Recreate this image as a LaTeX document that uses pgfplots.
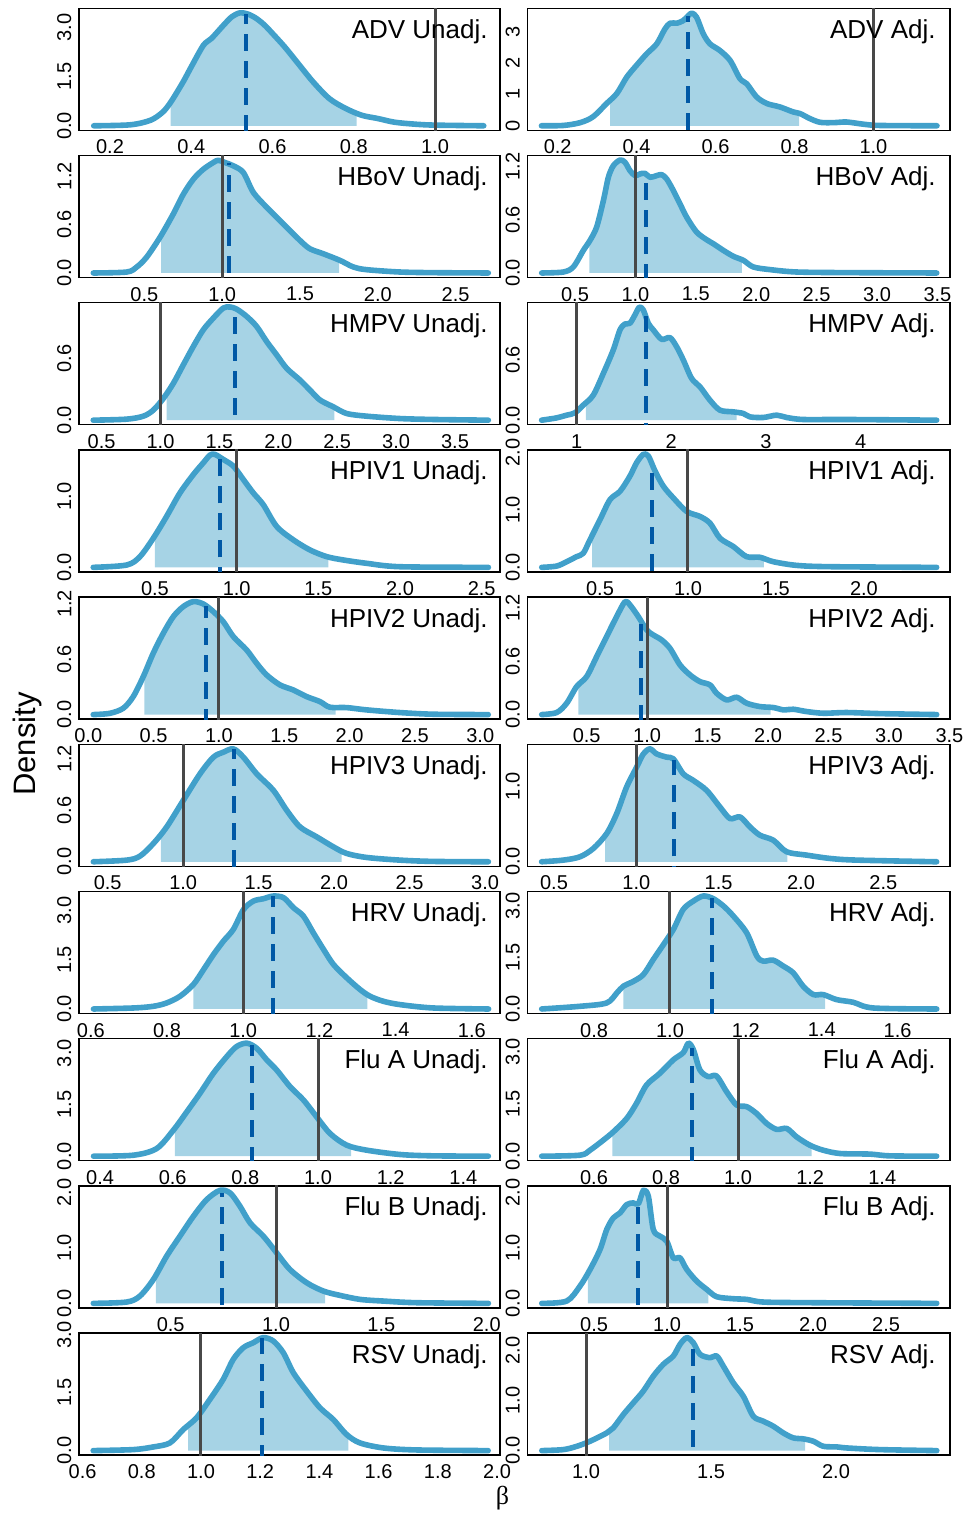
\documentclass[border=0pt]{standalone}
\usepackage{fontspec}
\setmainfont{Liberation Sans}
\newfontfamily\grk{Liberation Serif}
\usepackage{pgfplots}
\pgfplotsset{compat=1.18}
\usepackage{pgfplotstable}
\usepgfplotslibrary{fillbetween}

\definecolor{curveblue}{RGB}{65,160,202}
\definecolor{fillblue}{RGB}{166,211,229}
\definecolor{meanblue}{RGB}{0,88,165}
\definecolor{refgray}{RGB}{72,72,72}

\pgfplotsset{
  panel/.style={scale only axis, anchor=south west, height=61pt, clip=true,
    axis line style={line width=0.7pt, black}, major tick length=0pt,
    xticklabel style={font=\fontsize{10}{12}\selectfont, anchor=north, inner sep=0pt},
    yticklabel style={font=\fontsize{10}{12}\selectfont, rotate=90, anchor=south, inner sep=0pt},
    xticklabel shift=4.6pt, yticklabel shift=3.6pt},
  L/.style={panel, width=210.5pt},
  R/.style={panel, width=211.35pt},
  curve/.style={smooth, color=curveblue, line width=2.8pt, line cap=round, line join=round},
  refline/.style={color=refgray, line width=1.5pt},
  meanline/.style={color=meanblue, line width=2pt, dash pattern=on 8.5pt off 5pt},
}

% #1 table, #2/#3 shaded interval, #4 mean, #5 density at the mean
\newcommand{\dens}[5]{%
  \addplot[draw=none, smooth, name path=d] table {#1};
  \addplot[draw=none, name path=b] coordinates {(-5,0) (10,0)};
  \addplot[fill=fillblue, draw=none] fill between[of=d and b, soft clip={domain=#2:#3}];
  \addplot[curve] table {#1};
  \addplot[refline] coordinates {(1,-1) (1,10)};
  \addplot[meanline] coordinates {(#4,-1) (#4,#5)};
}
\newcommand{\ttl}[2]{\node[anchor=base east, inner sep=0pt, xshift=-#2, yshift=-15pt,
  font=\fontsize{13}{15.6}\selectfont] at (rel axis cs:1,1) {#1};}

\pgfplotstableread{
x y
0.16 0
0.25 0.03
0.30 0.17
0.33 0.42
0.35 0.73
0.38 1.34
0.40 1.80
0.43 2.46
0.45 2.67
0.48 3.08
0.50 3.33
0.52 3.45
0.54 3.41
0.56 3.28
0.58 3.08
0.60 2.82
0.63 2.41
0.66 1.95
0.70 1.34
0.74 0.83
0.78 0.53
0.82 0.32
0.86 0.22
0.90 0.11
0.95 0.05
1.00 0.02
1.12 0
}\dADVu

\pgfplotstableread{
x y
0.159 0
0.214 0.01
0.257 0.10
0.290 0.29
0.324 0.71
0.350 1.03
0.375 1.55
0.400 1.93
0.426 2.30
0.451 2.61
0.472 3.09
0.485 3.27
0.502 3.27
0.518 3.35
0.531 3.51
0.540 3.59
0.552 3.46
0.569 2.93
0.586 2.61
0.611 2.40
0.637 2.08
0.662 1.50
0.679 1.34
0.704 0.92
0.730 0.71
0.763 0.60
0.797 0.44
0.814 0.39
0.839 0.23
0.865 0.11
0.899 0.10
0.932 0.12
0.975 0.05
1.017 0.01
1.161 0
}\dADVa

\pgfplotstableread{
x y
0.172 0
0.387 0.012
0.451 0.074
0.515 0.197
0.601 0.444
0.686 0.732
0.751 0.978
0.815 1.163
0.879 1.286
0.943 1.369
0.975 1.397
1.018 1.369
1.072 1.328
1.136 1.245
1.200 0.999
1.286 0.814
1.393 0.608
1.500 0.403
1.564 0.300
1.650 0.238
1.757 0.156
1.843 0.074
1.928 0.041
2.142 0.012
2.357 0.004
2.710 0
}\dHBoVu

\pgfplotstableread{
x y
0.224 0
0.403 0.011
0.486 0.068
0.569 0.255
0.624 0.368
0.679 0.518
0.735 0.818
0.776 1.08
0.817 1.211
0.873 1.275
0.914 1.249
0.955 1.155
0.997 1.099
1.038 1.118
1.079 1.125
1.121 1.08
1.176 1.099
1.217 1.11
1.259 1.061
1.314 0.93
1.369 0.78
1.424 0.63
1.507 0.461
1.590 0.375
1.645 0.33
1.728 0.255
1.811 0.188
1.893 0.143
1.976 0.068
2.114 0.038
2.335 0.011
2.749 0.004
3.494 0
}\dHBoVa

\pgfplotstableread{
x y
0.429 0
0.712 0.010
0.854 0.039
0.939 0.098
1.024 0.212
1.109 0.359
1.193 0.538
1.278 0.717
1.363 0.880
1.448 0.994
1.533 1.092
1.590 1.102
1.646 1.082
1.731 1.011
1.816 0.913
1.901 0.766
1.986 0.636
2.071 0.505
2.184 0.391
2.269 0.293
2.354 0.196
2.467 0.130
2.580 0.065
2.750 0.039
3.033 0.016
3.316 0.007
3.783 0
}\dHMPVu

\pgfplotstableread{
x y
0.630 0
0.789 0.023
0.894 0.05
0.982 0.073
1.070 0.15
1.176 0.25
1.282 0.466
1.387 0.70
1.458 0.90
1.511 0.959
1.563 0.966
1.616 1.049
1.662 1.126
1.704 1.099
1.757 0.966
1.810 0.90
1.898 0.806
1.986 0.823
2.056 0.733
2.127 0.60
2.215 0.416
2.303 0.333
2.408 0.20
2.514 0.10
2.655 0.083
2.761 0.067
2.831 0.033
2.972 0.027
3.113 0.05
3.218 0.027
3.394 0.007
3.852 0.007
4.803 0
}\dHMPVa

\pgfplotstableread{
x y
0.122 0
0.327 0.033
0.408 0.151
0.490 0.411
0.571 0.717
0.653 1.048
0.735 1.307
0.796 1.473
0.837 1.581
0.867 1.591
0.918 1.52
0.980 1.425
1.041 1.237
1.102 1.048
1.163 0.883
1.245 0.576
1.347 0.387
1.449 0.245
1.551 0.151
1.653 0.104
1.796 0.057
2.000 0.009
2.541 0
}\dPIau

\pgfplotstableread{
x y
0.169 0
0.254 0.023
0.311 0.099
0.367 0.187
0.405 0.246
0.443 0.48
0.500 0.831
0.557 1.182
0.614 1.328
0.670 1.591
0.708 1.825
0.746 1.971
0.775 1.942
0.813 1.679
0.860 1.416
0.917 1.211
0.992 0.977
1.068 0.889
1.125 0.772
1.182 0.509
1.258 0.363
1.333 0.187
1.409 0.176
1.485 0.099
1.617 0.035
1.807 0.012
2.413 0
}\dPIaa

\pgfplotstableread{
x y
0.038 0
0.166 0.014
0.268 0.069
0.344 0.195
0.421 0.412
0.497 0.665
0.574 0.882
0.651 1.063
0.727 1.171
0.804 1.225
0.880 1.2
0.957 1.117
1.033 1.008
1.110 0.846
1.212 0.701
1.288 0.557
1.365 0.43
1.467 0.322
1.569 0.267
1.671 0.195
1.773 0.141
1.849 0.08
1.977 0.076
2.130 0.051
2.385 0.022
2.640 0.004
3.061 0
}\dPIbu

\pgfplotstableread{
x y
0.128 0
0.252 0.023
0.335 0.128
0.417 0.315
0.500 0.428
0.583 0.653
0.665 0.878
0.748 1.103
0.817 1.271
0.858 1.234
0.927 1.103
0.996 0.953
1.051 0.896
1.120 0.84
1.189 0.746
1.272 0.559
1.355 0.446
1.437 0.371
1.520 0.334
1.575 0.24
1.658 0.165
1.741 0.195
1.823 0.128
1.934 0.09
2.044 0.079
2.127 0.053
2.209 0.06
2.319 0.034
2.458 0.015
2.651 0.023
2.926 0.011
3.395 0
}\dPIba

\pgfplotstableread{
x y
0.405 0
0.626 0.019
0.714 0.066
0.803 0.213
0.891 0.406
1.001 0.716
1.112 1.026
1.200 1.219
1.266 1.277
1.333 1.316
1.399 1.219
1.487 1.026
1.598 0.832
1.686 0.6
1.774 0.406
1.885 0.29
1.995 0.174
2.083 0.097
2.216 0.05
2.437 0.019
2.658 0.004
3.022 0
}\dPIcu

\pgfplotstableread{
x y
0.425 0
0.557 0.022
0.658 0.066
0.739 0.176
0.820 0.373
0.881 0.637
0.941 0.988
1.002 1.251
1.043 1.427
1.083 1.493
1.123 1.427
1.184 1.383
1.225 1.361
1.285 1.163
1.346 1.076
1.427 0.944
1.508 0.724
1.569 0.571
1.630 0.593
1.690 0.461
1.751 0.351
1.832 0.285
1.913 0.132
2.034 0.088
2.176 0.044
2.338 0.022
2.824 0
}\dPIca

\pgfplotstableread{
x y
0.607 0
0.712 0.031
0.764 0.082
0.799 0.184
0.834 0.388
0.869 0.745
0.896 1.204
0.922 1.663
0.948 2.071
0.974 2.428
1.001 3.04
1.027 3.295
1.053 3.366
1.079 3.448
1.106 3.397
1.132 3.091
1.158 2.836
1.184 2.326
1.211 1.816
1.237 1.357
1.272 0.949
1.307 0.592
1.333 0.388
1.368 0.235
1.412 0.133
1.499 0.031
1.644 0
}\dHRVu

\pgfplotstableread{
x y
0.662 0
0.763 0.078
0.833 0.175
0.860 0.468
0.877 0.662
0.904 0.808
0.930 1.003
0.956 1.442
0.983 1.88
1.009 2.318
1.035 2.903
1.062 3.146
1.088 3.292
1.114 3.214
1.141 3.0
1.167 2.708
1.202 2.221
1.229 1.539
1.246 1.393
1.272 1.422
1.299 1.247
1.325 1.052
1.351 0.662
1.378 0.419
1.404 0.419
1.439 0.273
1.483 0.195
1.536 0.029
1.703 0
}\dHRVa

\pgfplotstableread{
x y
0.382 0
0.492 0.029
0.556 0.224
0.602 0.76
0.639 1.295
0.675 1.831
0.712 2.416
0.749 2.903
0.776 3.195
0.804 3.292
0.831 3.146
0.859 2.805
0.886 2.513
0.923 2.026
0.960 1.636
0.996 1.149
1.033 0.662
1.079 0.321
1.134 0.175
1.226 0.049
1.317 0.01
1.469 0
}\dFluAu

\pgfplotstableread{
x y
0.455 0
0.561 0.029
0.589 0.173
0.626 0.462
0.654 0.702
0.691 1.087
0.718 1.52
0.746 2.049
0.783 2.386
0.820 2.771
0.848 2.982
0.862 3.252
0.876 3.059
0.894 2.482
0.917 2.29
0.940 2.309
0.968 1.857
0.996 1.472
1.024 1.424
1.051 1.231
1.079 0.943
1.107 0.77
1.135 0.798
1.162 0.558
1.199 0.317
1.236 0.173
1.283 0.077
1.366 0.06
1.421 0.01
1.551 0
}\dFluAa

\pgfplotstableread{
x y
0.133 0
0.291 0.024
0.354 0.132
0.418 0.432
0.481 0.853
0.544 1.214
0.608 1.574
0.671 1.875
0.734 2.042
0.782 1.995
0.829 1.755
0.877 1.454
0.940 1.214
1.003 0.913
1.066 0.613
1.146 0.372
1.225 0.222
1.304 0.144
1.399 0.072
1.509 0.042
1.668 0.012
2.008 0
}\dFluBu

\pgfplotstableread{
x y
0.142 0
0.313 0.042
0.404 0.312
0.473 0.613
0.541 0.973
0.587 1.334
0.632 1.544
0.678 1.634
0.724 1.785
0.769 1.815
0.804 1.80
0.838 2.042
0.872 1.935
0.906 1.334
0.952 1.214
0.998 1.123
1.043 0.823
1.089 0.823
1.135 0.613
1.203 0.402
1.272 0.252
1.340 0.12
1.454 0.084
1.546 0.072
1.660 0.024
2.002 0.012
2.847 0
}\dFluBa

\pgfplotstableread{
x y
0.636 0
0.771 0.026
0.839 0.095
0.895 0.199
0.940 0.546
0.985 0.85
1.030 1.327
1.075 1.847
1.109 2.367
1.143 2.67
1.177 2.8
1.210 2.93
1.244 2.844
1.278 2.54
1.312 2.02
1.357 1.543
1.402 1.11
1.447 0.806
1.492 0.416
1.537 0.199
1.616 0.069
1.728 0.017
1.970 0
}\dRSVu

\pgfplotstableread{
x y
0.823 0
0.909 0.02
0.963 0.086
1.016 0.187
1.083 0.353
1.109 0.453
1.149 0.72
1.189 0.954
1.229 1.188
1.269 1.487
1.309 1.721
1.349 1.888
1.376 2.121
1.403 2.255
1.429 2.154
1.456 1.921
1.496 1.854
1.523 1.888
1.549 1.687
1.589 1.354
1.629 1.087
1.669 0.687
1.709 0.587
1.749 0.487
1.789 0.353
1.829 0.254
1.869 0.234
1.909 0.187
1.949 0.086
2.003 0.074
2.043 0.053
2.176 0.02
2.403 0
}\dRSVa

\begin{document}
\begin{tikzpicture}

% row 1: ADV
\begin{axis}[L, at={(39.5pt,-65.15pt)}, xmin=0.1237, xmax=1.160, ymin=-0.138, ymax=3.588,
  xtick={0.2,0.4,0.6,0.8,1.0}, xticklabels={0.2,0.4,0.6,0.8,1.0},
  ytick={0,1.5,3}, yticklabels={0.0,1.5,3.0}]
\dens{\dADVu}{0.349}{0.807}{0.535}{3.41}
\ttl{ADV Unadj.}{6pt}
\end{axis}
\begin{axis}[R, at={(263.65pt,-65.15pt)}, xmin=0.1231, xmax=1.194, ymin=-0.144, ymax=3.744,
  xtick={0.2,0.4,0.6,0.8,1.0}, xticklabels={0.2,0.4,0.6,0.8,1.0},
  ytick={0,1,2,3}, yticklabels={0,1,2,3}]
\dens{\dADVa}{0.333}{0.812}{0.529}{3.5}
\ttl{ADV Adj.}{7pt}
\end{axis}

% row 2: HBoV
\begin{axis}[L, at={(39.5pt,-138.75pt)}, xmin=0.080, xmax=2.785, ymin=-0.056, ymax=1.456,
  xtick={0.5,1.0,1.5,2.0,2.5}, xticklabels={0.5,1.0,1.5,2.0,2.5},
  ytick={0,0.6,1.2}, yticklabels={0.0,0.6,1.2}]
\dens{\dHBoVu}{0.607}{1.751}{1.042}{1.36}
\ttl{HBoV Unadj.}{6pt}
\end{axis}
\begin{axis}[R, at={(263.65pt,-138.75pt)}, xmin=0.105, xmax=3.604, ymin=-0.051, ymax=1.326,
  xtick={0.5,1.0,1.5,2.0,2.5,3.0,3.5}, xticklabels={0.5,1.0,1.5,2.0,2.5,3.0,3.5},
  ytick={0,0.6,1.2}, yticklabels={0.0,0.6,1.2}]
\dens{\dHBoVa}{0.619}{1.882}{1.085}{1.11}
\ttl{HBoV Adj.}{7pt}
\end{axis}

% row 3: HMPV
\begin{axis}[L, at={(39.5pt,-212.35pt)}, xmin=0.308, xmax=3.882, ymin=-0.044, ymax=1.144,
  xtick={0.5,1.0,1.5,2.0,2.5,3.0,3.5}, xticklabels={0.5,1.0,1.5,2.0,2.5,3.0,3.5},
  ytick={0,0.6}, yticklabels={0.0,0.6}]
\dens{\dHMPVu}{1.052}{2.476}{1.635}{1.086}
\ttl{HMPV Unadj.}{6pt}
\end{axis}
\begin{axis}[R, at={(263.65pt,-212.35pt)}, xmin=0.479, xmax=4.944, ymin=-0.045, ymax=1.171,
  xtick={1,2,3,4}, xticklabels={1,2,3,4},
  ytick={0,0.6}, yticklabels={0.0,0.6}]
\dens{\dHMPVa}{1.099}{2.690}{1.729}{1.04}
\ttl{HMPV Adj.}{7pt}
\end{axis}

% row 4: HPIV1
\begin{axis}[L, at={(39.5pt,-285.95pt)}, xmin=0.035, xmax=2.612, ymin=-0.064, ymax=1.654,
  xtick={0.5,1.0,1.5,2.0,2.5}, xticklabels={0.5,1.0,1.5,2.0,2.5},
  ytick={0,1}, yticklabels={0.0,1.0}]
\dens{\dPIau}{0.500}{1.561}{0.898}{1.55}
\ttl{HPIV1 Unadj.}{6pt}
\end{axis}
\begin{axis}[R, at={(263.65pt,-285.95pt)}, xmin=0.087, xmax=2.489, ymin=-0.079, ymax=2.049,
  xtick={0.5,1.0,1.5,2.0}, xticklabels={0.5,1.0,1.5,2.0},
  ytick={0,1,2}, yticklabels={0.0,1.0,2.0}]
\dens{\dPIaa}{0.456}{1.432}{0.794}{1.81}
\ttl{HPIV1 Adj.}{7pt}
\end{axis}

% row 5: HPIV2
\begin{axis}[L, at={(39.5pt,-359.55pt)}, xmin=-0.071, xmax=3.151, ymin=-0.049, ymax=1.274,
  xtick={0,0.5,1.0,1.5,2.0,2.5,3.0}, xticklabels={0.0,0.5,1.0,1.5,2.0,2.5,3.0},
  ytick={0,0.6,1.2}, yticklabels={0.0,0.6,1.2}]
\dens{\dPIbu}{0.429}{1.893}{0.901}{1.18}
\ttl{HPIV2 Unadj.}{6pt}
\end{axis}
\begin{axis}[R, at={(263.65pt,-359.55pt)}, xmin=0.009, xmax=3.505, ymin=-0.051, ymax=1.322,
  xtick={0.5,1.0,1.5,2.0,2.5,3.0,3.5}, xticklabels={0.5,1.0,1.5,2.0,2.5,3.0,3.5},
  ytick={0,0.6,1.2}, yticklabels={0.0,0.6,1.2}]
\dens{\dPIba}{0.431}{2.022}{0.949}{1.06}
\ttl{HPIV2 Adj.}{7pt}
\end{axis}

% row 6: HPIV3
\begin{axis}[L, at={(39.5pt,-433.15pt)}, xmin=0.310, xmax=3.099, ymin=-0.053, ymax=1.369,
  xtick={0.5,1.0,1.5,2.0,2.5,3.0}, xticklabels={0.5,1.0,1.5,2.0,2.5,3.0},
  ytick={0,0.6,1.2}, yticklabels={0.0,0.6,1.2}]
\dens{\dPIcu}{0.853}{2.050}{1.337}{1.31}
\ttl{HPIV3 Unadj.}{6pt}
\end{axis}
\begin{axis}[R, at={(263.65pt,-433.15pt)}, xmin=0.338, xmax=2.905, ymin=-0.06, ymax=1.553,
  xtick={0.5,1.0,1.5,2.0,2.5}, xticklabels={0.5,1.0,1.5,2.0,2.5},
  ytick={0,1}, yticklabels={0.0,1.0}]
\dens{\dPIca}{0.810}{1.917}{1.231}{1.34}
\ttl{HPIV3 Adj.}{7pt}
\end{axis}

% row 7: HRV
\begin{axis}[L, at={(39.5pt,-506.75pt)}, xmin=0.569, xmax=1.674, ymin=-0.138, ymax=3.586,
  xtick={0.6,0.8,1.0,1.2,1.4,1.6}, xticklabels={0.6,0.8,1.0,1.2,1.4,1.6},
  ytick={0,1.5,3}, yticklabels={0.0,1.5,3.0}]
\dens{\dHRVu}{0.869}{1.326}{1.078}{3.44}
\ttl{HRV Unadj.}{6pt}
\end{axis}
\begin{axis}[R, at={(263.65pt,-506.75pt)}, xmin=0.624, xmax=1.738, ymin=-0.132, ymax=3.422,
  xtick={0.8,1.0,1.2,1.4,1.6}, xticklabels={0.8,1.0,1.2,1.4,1.6},
  ytick={0,1.5,3}, yticklabels={0.0,1.5,3.0}]
\dens{\dHRVa}{0.877}{1.409}{1.110}{3.23}
\ttl{HRV Adj.}{7pt}
\end{axis}

% row 8: Flu A
\begin{axis}[L, at={(39.5pt,-580.35pt)}, xmin=0.342, xmax=1.501, ymin=-0.132, ymax=3.422,
  xtick={0.4,0.6,0.8,1.0,1.2,1.4}, xticklabels={0.4,0.6,0.8,1.0,1.2,1.4},
  ytick={0,1.5,3}, yticklabels={0.0,1.5,3.0}]
\dens{\dFluAu}{0.606}{1.091}{0.817}{3.24}
\ttl{Flu A Unadj.}{6pt}
\end{axis}
\begin{axis}[R, at={(263.65pt,-580.35pt)}, xmin=0.415, xmax=1.588, ymin=-0.13, ymax=3.38,
  xtick={0.6,0.8,1.0,1.2,1.4}, xticklabels={0.6,0.8,1.0,1.2,1.4},
  ytick={0,1.5,3}, yticklabels={0.0,1.5,3.0}]
\dens{\dFluAa}{0.651}{1.204}{0.871}{3.12}
\ttl{Flu A Adj.}{7pt}
\end{axis}

% row 9: Flu B
\begin{axis}[L, at={(39.5pt,-653.95pt)}, xmin=0.065, xmax=2.063, ymin=-0.082, ymax=2.122,
  xtick={0.5,1.0,1.5,2.0}, xticklabels={0.5,1.0,1.5,2.0},
  ytick={0,1,2}, yticklabels={0.0,1.0,2.0}]
\dens{\dFluBu}{0.430}{1.233}{0.742}{2.0}
\ttl{Flu B Unadj.}{6pt}
\end{axis}
\begin{axis}[R, at={(263.65pt,-653.95pt)}, xmin=0.043, xmax=2.938, ymin=-0.082, ymax=2.122,
  xtick={0.5,1.0,1.5,2.0,2.5}, xticklabels={0.5,1.0,1.5,2.0,2.5},
  ytick={0,1,2}, yticklabels={0.0,1.0,2.0}]
\dens{\dFluBa}{0.457}{1.283}{0.799}{1.80}
\ttl{Flu B Adj.}{7pt}
\end{axis}

% row 10: RSV
\begin{axis}[L, at={(39.5pt,-727.55pt)}, xmin=0.588, xmax=2.010, ymin=-0.117, ymax=3.047,
  xtick={0.6,0.8,1.0,1.2,1.4,1.6,1.8,2.0}, xticklabels={0.6,0.8,1.0,1.2,1.4,1.6,1.8,2.0},
  ytick={0,1.5,3}, yticklabels={0.0,1.5,3.0}]
\dens{\dRSVu}{0.957}{1.498}{1.207}{2.92}
\ttl{RSV Unadj.}{6pt}
\end{axis}
\begin{axis}[R, at={(263.65pt,-727.55pt)}, xmin=0.765, xmax=2.456, ymin=-0.09, ymax=2.345,
  xtick={1.0,1.5,2.0}, xticklabels={1.0,1.5,2.0},
  ytick={0,1,2}, yticklabels={0.0,1.0,2.0}]
\dens{\dRSVa}{1.092}{1.876}{1.427}{2.15}
\ttl{RSV Adj.}{7pt}
\end{axis}

\node[rotate=90, anchor=base, inner sep=0pt, font=\fontsize{15.5}{18}\selectfont] at (17.5pt,-372pt) {Density};
\node[anchor=base, inner sep=0pt, font=\grk\fontsize{13}{15}\selectfont] at (251.25pt,-752pt) {β};
\pgfresetboundingbox
\path[use as bounding box] (0,0) rectangle (484pt,-757.5pt);
\end{tikzpicture}
\end{document}
